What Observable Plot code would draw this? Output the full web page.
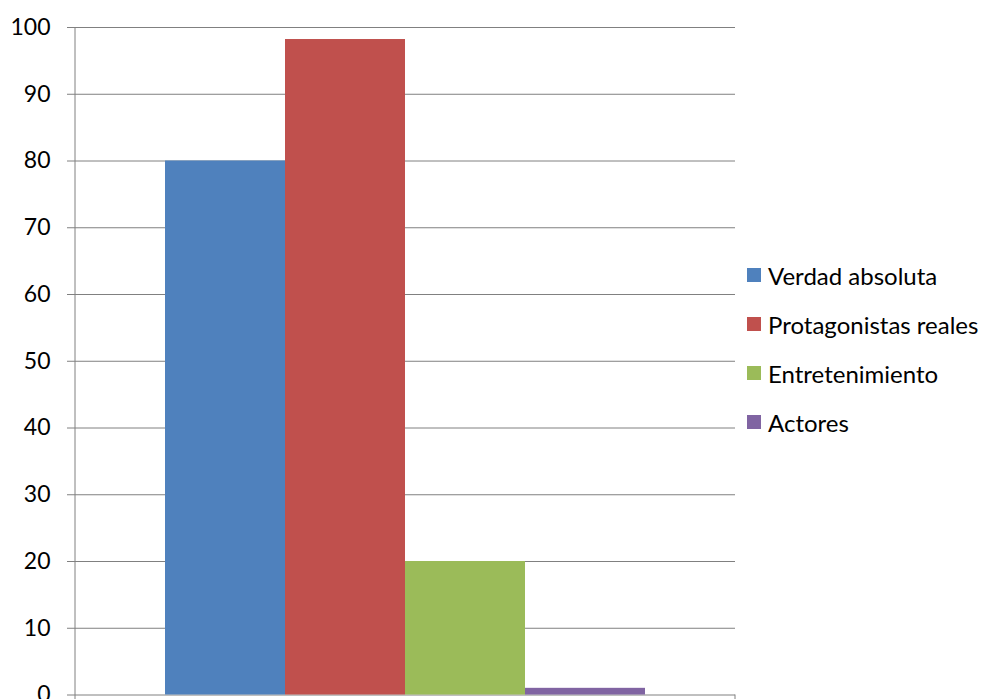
<!DOCTYPE html>
<html>
<head>
<meta charset="utf-8">
<script src="https://cdn.jsdelivr.net/npm/d3@7"></script>
<script src="https://cdn.jsdelivr.net/npm/@observablehq/plot@0.6"></script>
<style>
  html, body { margin: 0; padding: 0; background: #fff; overflow: hidden; }
  #wrap { position: relative; width: 990px; height: 699px; font-family: Lato, "Open Sans", sans-serif; }
  #legend { position: absolute; left: 747px; top: 263px; }
  .row { display: flex; align-items: center; height: 24px; margin-bottom: 25px; font-size: 24px; color: #000; white-space: nowrap; }
  .sw { width: 14px; height: 14px; margin-right: 7px; flex: none; }
</style>
</head>
<body>
<div id="wrap"></div>
<script>
const series = ["Verdad absoluta", "Protagonistas reales", "Entretenimiento", "Actores"];
const values = [80, 98.2, 20, 1];
const colors = ["#4F81BD", "#C0504D", "#9BBB59", "#8064A2"];
const yTicks = [0, 10, 20, 30, 40, 50, 60, 70, 80, 90, 100];

const data = series.map((s, i) => ({series: s, value: values[i]}));

const plot = Plot.plot({
  width: 990,
  height: 699,
  marginLeft: 75,
  marginRight: 255,
  marginTop: 27,
  marginBottom: 4.5,
  style: {fontFamily: "Lato, 'Open Sans', sans-serif", fontSize: "23px", color: "#000", background: "#fff"},
  x: {domain: series, paddingInner: 0, paddingOuter: 0.75, axis: null},
  y: {domain: [0, 100]},
  color: {domain: series, range: colors},
  marks: [
    Plot.ruleY(yTicks, {stroke: "#808080", strokeWidth: 1}),
    Plot.barY(data, {x: "series", y: "value", fill: "series"}),
    Plot.axisY({ticks: yTicks, label: null, tickSize: 8, tickPadding: 17, stroke: "#808080", fill: "#000", fontSize: 23})
  ]
});

document.getElementById("wrap").appendChild(plot);

// vertical axis line and category boundary ticks
const xs = plot.scale("x");
const ys = plot.scale("y");
const svg = d3.select(plot);
const x0 = xs.range[0], x1 = xs.range[1];
const y0 = ys.apply(0), y100 = ys.apply(100);
svg.append("line").attr("x1", x0).attr("x2", x0).attr("y1", y100).attr("y2", y0 + 6)
  .attr("stroke", "#808080").attr("stroke-width", 1);
svg.append("line").attr("x1", x1).attr("x2", x1).attr("y1", y0).attr("y2", y0 + 6)
  .attr("stroke", "#808080").attr("stroke-width", 1);

// legend
const legend = d3.select("#wrap").append("div").attr("id", "legend");
series.forEach((s, i) => {
  const row = legend.append("div").attr("class", "row");
  row.append("div").attr("class", "sw").style("background", colors[i]);
  row.append("span").text(s);
});
</script>
</body>
</html>
